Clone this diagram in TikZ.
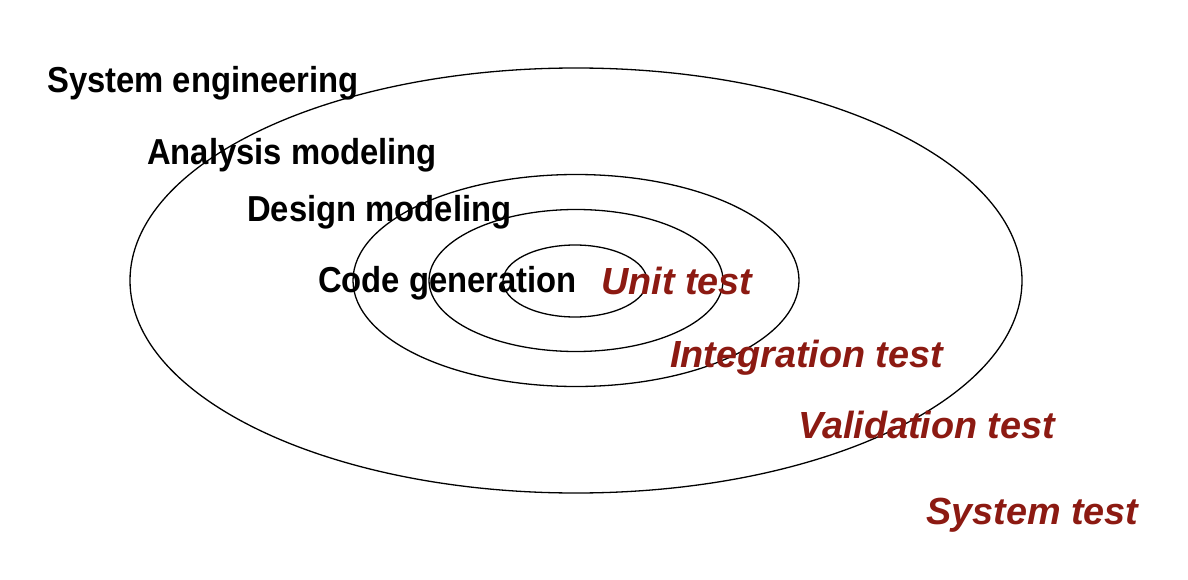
\documentclass[tikz,border=0pt]{standalone}
\usepackage{fontspec}
\setmainfont{Liberation Sans}
\definecolor{testred}{RGB}{140,26,18}

\begin{document}
\begin{tikzpicture}[x=1pt,y=-1pt,
  phase/.style={anchor=base west,inner sep=0,yscale=1.1,transform shape,font=\fontsize{32.8}{38}\selectfont\bfseries},
  testlabel/.style={anchor=base west,inner sep=0,text=testred,font=\fontsize{37.8}{44}\selectfont\bfseries\itshape}]
\useasboundingbox (0,0) rectangle (1188,580);
% rings
\draw[line width=1.3pt] (576,280.5) ellipse [x radius=446, y radius=212.5];
\draw[line width=1.3pt] (576,280.5) ellipse [x radius=223, y radius=106];
\draw[line width=1.3pt] (576,280.5) ellipse [x radius=147, y radius=71];
\draw[line width=1.3pt] (575,281) ellipse [x radius=72, y radius=36];
% left side
\node[phase] (se) at (47,93) {System engineering};
\node[phase] (am) at (147,165) {Analysis modeling};
\node[phase] (dm) at (247,222) {Design modeling};
\node[phase] (cg) at (318,292) {Code generation};
% right side
\node[testlabel] (ut) at (601,294) {Unit test};
\node[testlabel] (it) at (670,367) {Integration test};
\node[testlabel] (vt) at (798,438) {Validation test};
\node[testlabel] (st) at (926,524) {System test};
\end{tikzpicture}
\end{document}
